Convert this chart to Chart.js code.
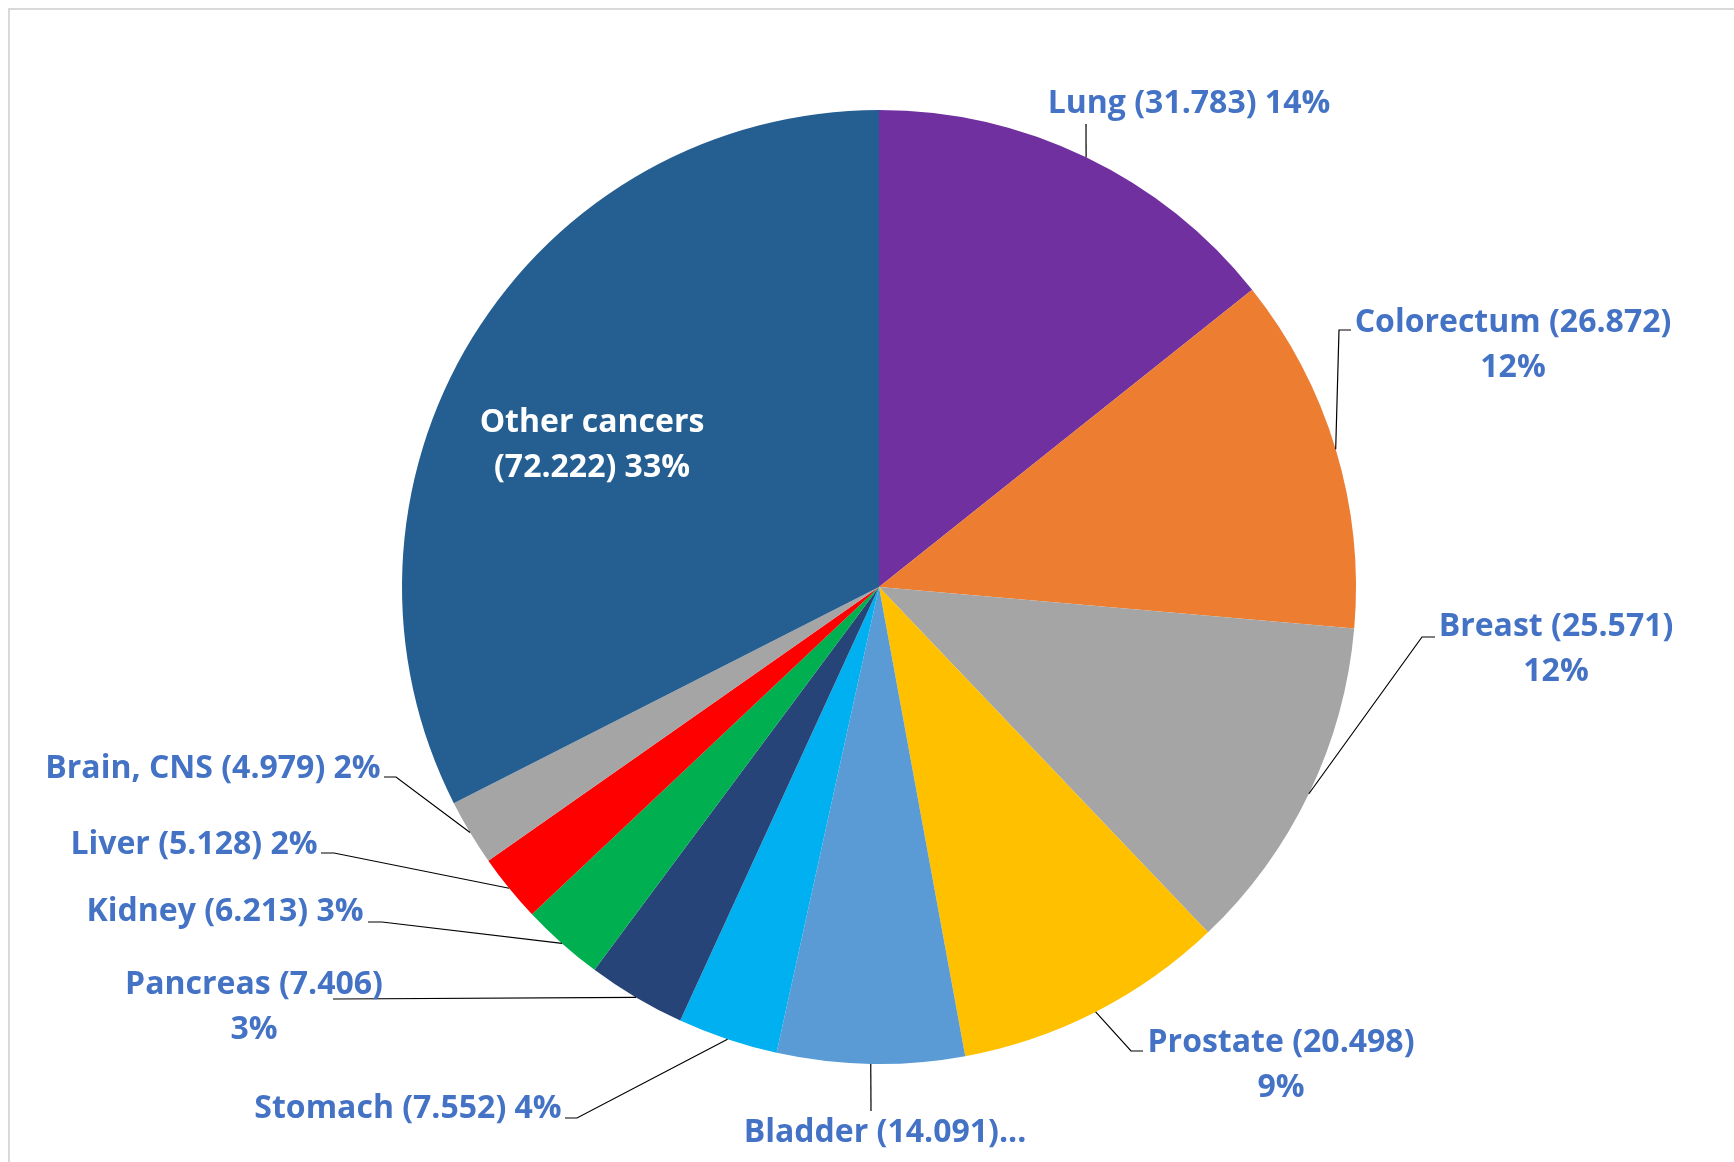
<!DOCTYPE html>
<html>
<head>
<meta charset="utf-8">
<title>Cancer cases by site</title>
<script src="https://cdn.jsdelivr.net/npm/chart.js@4.4.1/dist/chart.umd.min.js"></script>
<style>
  html, body { margin: 0; padding: 0; background: #ffffff; }
  #wrap { position: relative; width: 1734px; height: 1162px; }
  canvas { display: block; }
</style>
</head>
<body>
<div id="wrap"><canvas id="pie" width="1734" height="1162"></canvas></div>
<script>
// Cancer sites, clockwise from 12 o'clock
const categories = ['Lung', 'Colorectum', 'Breast', 'Prostate', 'Bladder', 'Stomach',
                    'Pancreas', 'Kidney', 'Liver', 'Brain, CNS', 'Other cancers'];
const cases = [31.783, 26.872, 25.571, 20.498, 14.091, 7.552, 7.406, 6.213, 5.128, 4.979, 72.222];
const percentLabels = ['14%', '12%', '12%', '9%', '6%', '4%', '3%', '3%', '2%', '2%', '33%'];
const sliceColors = ['#7030A0', '#ED7D31', '#A5A5A5', '#FFC000', '#5B9BD5', '#00B0F0',
                     '#264478', '#00B050', '#FF0000', '#A5A5A5', '#255E91'];

// How each data label is laid out: text lines, where the text sits,
// and the elbow/stub of its leader line (canvas pixels).
function labelText(i) {
  const v = cases[i].toFixed(3);
  const n = categories[i];
  switch (i) {
    case 0: return [n + ' (' + v + ') ' + percentLabels[i]];
    case 1: case 2: case 3: case 6: return [n + ' (' + v + ')', percentLabels[i]];
    case 4: return [n + ' (' + v + ')...'];
    case 10: return [n, '(' + v + ') ' + percentLabels[i]];
    default: return [n + ' (' + v + ') ' + percentLabels[i]];
  }
}
const labelLayout = [
  { cx: 1189, cy: 104, elbow: [1086, 124], stub: null },
  { cx: 1513, cy: 323, elbow: [1339, 330], stub: [1351, 330] },
  { cx: 1556, cy: 627, elbow: [1422, 637], stub: [1435, 637] },
  { cx: 1281, cy: 1043, elbow: [1131, 1051], stub: [1143, 1051] },
  { cx: 885, cy: 1133, elbow: [871, 1111], stub: null },
  { cx: 408, cy: 1109, elbow: [577, 1118], stub: [565, 1118] },
  { cx: 254, cy: 985, elbow: [333, 999], stub: null },
  { cx: 225, cy: 912, elbow: [382, 922], stub: [368, 922] },
  { cx: 194, cy: 845, elbow: [334, 853], stub: [321, 853] },
  { cx: 213, cy: 769, elbow: [396, 777], stub: [384, 777] },
  { cx: 592, cy: 423, elbow: null, stub: null, inside: true }
];

const FONT = 'bold 32px "Open Sans", "DejaVu Sans", sans-serif';
const LINE_GAP = 45;

// Light frame around the chart area
const framePlugin = {
  id: 'frame',
  beforeDraw(chart) {
    const ctx = chart.ctx;
    ctx.save();
    ctx.fillStyle = '#ffffff';
    ctx.fillRect(0, 0, chart.width, chart.height);
    ctx.strokeStyle = '#D9D9D9';
    ctx.lineWidth = 2;
    ctx.beginPath();
    ctx.moveTo(9, chart.height);
    ctx.lineTo(9, 9);
    ctx.lineTo(chart.width, 9);
    ctx.stroke();
    ctx.restore();
  }
};

// Data labels with leader lines starting on the arc at each slice's mid angle
const labelPlugin = {
  id: 'sliceLabels',
  afterDatasetsDraw(chart) {
    const ctx = chart.ctx;
    const arcs = chart.getDatasetMeta(0).data;
    ctx.save();
    arcs.forEach((arc, i) => {
      const L = labelLayout[i];
      const p = arc.getProps(['x', 'y', 'startAngle', 'endAngle', 'outerRadius'], true);
      const mid = (p.startAngle + p.endAngle) / 2;
      if (L.elbow) {
        const ax = p.x + Math.cos(mid) * p.outerRadius;
        const ay = p.y + Math.sin(mid) * p.outerRadius;
        ctx.strokeStyle = '#000000';
        ctx.lineWidth = 1.2;
        ctx.beginPath();
        ctx.moveTo(ax, ay);
        ctx.lineTo(L.elbow[0], L.elbow[1]);
        if (L.stub) ctx.lineTo(L.stub[0], L.stub[1]);
        ctx.stroke();
      }
      ctx.font = FONT;
      ctx.textAlign = 'center';
      ctx.textBaseline = 'middle';
      ctx.fillStyle = L.inside ? '#ffffff' : '#4472C4';
      labelText(i).forEach((line, k) => {
        ctx.fillText(line, L.cx, L.cy + k * LINE_GAP);
      });
    });
    ctx.restore();
  }
};

new Chart(document.getElementById('pie'), {
  type: 'pie',
  data: {
    labels: categories,
    datasets: [{
      data: cases,
      backgroundColor: sliceColors,
      borderWidth: 0
    }]
  },
  options: {
    responsive: false,
    animation: false,
    events: [],
    layout: { padding: { top: 110, bottom: 98, left: 402, right: 378 } },
    plugins: {
      legend: { display: false },
      tooltip: { enabled: false },
      title: { display: false }
    }
  },
  plugins: [framePlugin, labelPlugin]
});
</script>
</body>
</html>
